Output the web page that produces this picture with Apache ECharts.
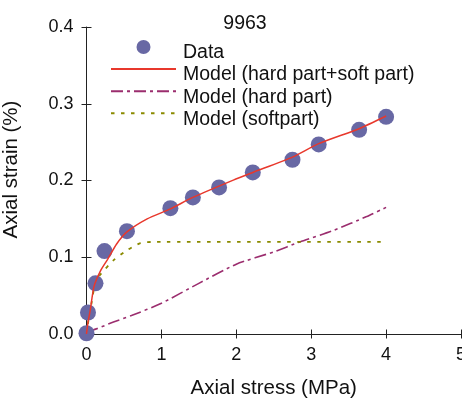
<!DOCTYPE html>
<html><head><meta charset="utf-8">
<script src="https://cdn.jsdelivr.net/npm/echarts@6/dist/echarts.min.js"></script>
<style>html,body{margin:0;padding:0;background:#fff}#c{width:462px;height:398px}</style>
</head><body><div id="c"></div>
<script>
const titleText = '9963';
const xName = 'Axial stress (MPa)';
const yName = 'Axial strain (%)';
const dataX = [0, 0.02, 0.12, 0.24, 0.54, 1.12, 1.42, 1.77, 2.22, 2.75, 3.10, 3.64, 4.0];
const dataY = [0.001, 0.028, 0.066, 0.108, 0.134, 0.164, 0.178, 0.191, 0.2105, 0.227, 0.247, 0.266, 0.283];
const totalX = [0, 0.02, 0.05, 0.1, 0.19, 0.28, 0.4, 0.54, 0.81, 1.12, 1.42, 1.96, 2.22, 2.75, 3.10, 3.64, 4.0];
const totalY = [0, 0.015, 0.031, 0.062, 0.083, 0.097, 0.117, 0.133, 0.150, 0.163, 0.178, 0.2005, 0.2105, 0.2305, 0.248, 0.2675, 0.284];
const hardX = [0, 0.14, 0.36, 0.6, 1.0, 1.5, 2.0, 2.5, 2.85, 3.3, 3.74, 4.0];
const hardY = [0.003, 0.007, 0.0156, 0.024, 0.040, 0.066, 0.091, 0.107, 0.120, 0.135, 0.153, 0.165];
const softX = [0, 0.02, 0.05, 0.12, 0.19, 0.36, 0.54, 0.72, 0.9, 4.0];
const softY = [0, 0.014, 0.03, 0.068, 0.078, 0.096, 0.109, 0.1185, 0.12, 0.12];
const names = ['Data', 'Model (hard part+soft part)', 'Model (hard part)', 'Model (softpart)'];

const pairs = (xs, ys) => xs.map((x, i) => [x, ys[i]]);
const font = 'Liberation Sans, Arial, sans-serif';
const axisCol = '#222';

const chart = echarts.init(document.getElementById('c'));
chart.setOption({
  animation: false,
  title: { text: titleText, left: 240, top: 9, textAlign: 'center',
    textStyle: { fontFamily: font, fontSize: 19.5, fontWeight: 'normal', color: '#111' } },
  grid: { left: 86.5, right: 1, top: 27, bottom: 64, containLabel: false, outerBoundsMode: 'none' },
  legend: {
    left: 110, top: 40, orient: 'vertical', padding: 0,
    itemWidth: 65, itemHeight: 14, itemGap: 0.5,
    data: [
      { name: names[0] },
      { name: names[1], itemStyle: { opacity: 0 } },
      { name: names[2], itemStyle: { opacity: 0 } },
      { name: names[3], itemStyle: { opacity: 0 } }
    ],
    formatter: '{a|{name}}',
    textStyle: { fontFamily: font, fontSize: 19.5, color: '#111',
      rich: { a: { fontFamily: font, fontSize: 19.5, color: '#111', padding: [12, 0, 0, 2] } } }
  },
  xAxis: [{
    type: 'value', min: 0, max: 5, interval: 1,
    name: xName, nameLocation: 'middle', nameGap: 44,
    nameTextStyle: { fontFamily: font, fontSize: 20.5, color: '#111' },
    axisLine: { show: true, lineStyle: { color: axisCol, width: 1 } },
    axisTick: { show: true, length: 4.5, lineStyle: { color: axisCol } },
    axisLabel: { fontFamily: font, fontSize: 18, color: '#111', margin: 12 },
    splitLine: { show: false }
  }, {
    type: 'value', min: 0, max: 5, interval: 1, position: 'bottom',
    axisLine: { show: false }, axisLabel: { show: false },
    axisTick: { show: true, inside: true, length: 4.5, lineStyle: { color: axisCol } },
    splitLine: { show: false }
  }],
  yAxis: [{
    type: 'value', min: 0, max: 0.4, interval: 0.1,
    name: yName, nameLocation: 'middle', nameGap: 65,
    nameTextStyle: { fontFamily: font, fontSize: 20.5, color: '#111', padding: [0, 0, 0, 22] },
    axisLine: { show: true, lineStyle: { color: axisCol, width: 1 } },
    axisTick: { show: true, length: 5, lineStyle: { color: axisCol } },
    axisLabel: { fontFamily: font, fontSize: 18, color: '#111', margin: 13,
      formatter: v => v.toFixed(1) },
    splitLine: { show: false }
  }, {
    type: 'value', min: 0, max: 0.4, interval: 0.1, position: 'left',
    axisLine: { show: false }, axisLabel: { show: false },
    axisTick: { show: true, inside: true, length: 5, lineStyle: { color: axisCol } },
    splitLine: { show: false }
  }],
  series: [
    { name: names[2], type: 'line', data: pairs(hardX, hardY), symbol: 'none', smooth: 0.2,
      lineStyle: { color: '#9b2d6e', width: 1.6, type: [12, 4, 3, 4] }, itemStyle: { color: '#9b2d6e' }, z: 2 },
    { name: names[3], type: 'line', data: pairs(softX, softY), symbol: 'none', smooth: 0.2,
      lineStyle: { color: '#8a8a00', width: 1.8, type: [3.5, 6.5] }, itemStyle: { color: '#8a8a00' }, z: 2 },
    { name: names[0], type: 'scatter', data: pairs(dataX, dataY), symbol: 'circle', symbolSize: 16,
      itemStyle: { color: '#6868a4', opacity: 1 }, z: 3 },
    { name: names[1], type: 'line', data: pairs(totalX, totalY), symbol: 'none', smooth: 0.2,
      lineStyle: { color: '#e8382c', width: 1.5 }, itemStyle: { color: '#e8382c' }, z: 4 }
  ]
});
</script></body></html>
